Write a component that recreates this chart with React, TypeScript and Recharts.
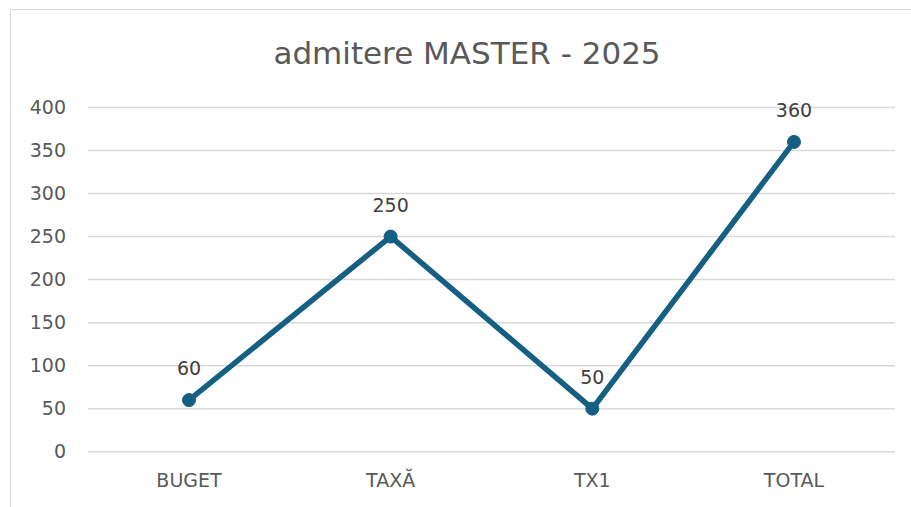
import { LineChart, Line, XAxis, YAxis, CartesianGrid, LabelList } from "recharts"

const categories = ["BUGET", "TAXĂ", "TX1", "TOTAL"]
const values = [60, 250, 50, 360]
const yTicks = [0, 50, 100, 150, 200, 250, 300, 350, 400]

const data = categories.map((c, i) => ({ cat: c, value: values[i] }))

const FONT = "'DejaVu Sans', sans-serif"

export default function App() {
    return (
        <div style={{ position: "absolute", left: 0, top: 0, width: 911, height: 507, overflow: "hidden", background: "#fff" }}>
            {/* chenar grafic, taiat in dreapta/jos */}
            <div style={{ position: "absolute", left: 10, top: 9, width: 1000, height: 600, border: "1px solid #d9d9d9" }} />
            <svg width={911} height={507} style={{ position: "absolute", left: 0, top: 0 }}>
                <text x={467} y={64} textAnchor="middle" fontFamily={FONT} fontSize={31} fill="#595959">
                    admitere MASTER - 2025
                </text>
            </svg>
            <div style={{ position: "absolute", left: 0, top: 0 }}>
                <LineChart width={911} height={507} data={data} margin={{ top: 107.5, right: 16, bottom: 0, left: 0 }}>
                    <CartesianGrid vertical={false} stroke="#d9d9d9" strokeWidth={1.5} />
                    <XAxis
                        dataKey="cat"
                        height={55.3}
                        axisLine={false}
                        tickLine={false}
                        tickSize={0}
                        tickMargin={22}
                        padding={{ left: 101, right: 101 }}
                        tick={{ fill: "#595959", fontSize: 19, fontFamily: FONT }}
                    />
                    <YAxis
                        width={88}
                        domain={[0, 400]}
                        ticks={yTicks}
                        axisLine={false}
                        tickLine={false}
                        tickSize={0}
                        tickMargin={22}
                        tick={{ fill: "#595959", fontSize: 19, fontFamily: FONT }}
                    />
                    <Line
                        type="linear"
                        dataKey="value"
                        stroke="#156082"
                        strokeWidth={5.5}
                        dot={{ r: 6.5, fill: "#156082", stroke: "#156082", strokeWidth: 1 }}
                        isAnimationActive={false}
                    >
                        <LabelList dataKey="value" position="top" offset={25} fill="#404040" fontSize={19} fontFamily={FONT} />
                    </Line>
                </LineChart>
            </div>
        </div>
    )
}
